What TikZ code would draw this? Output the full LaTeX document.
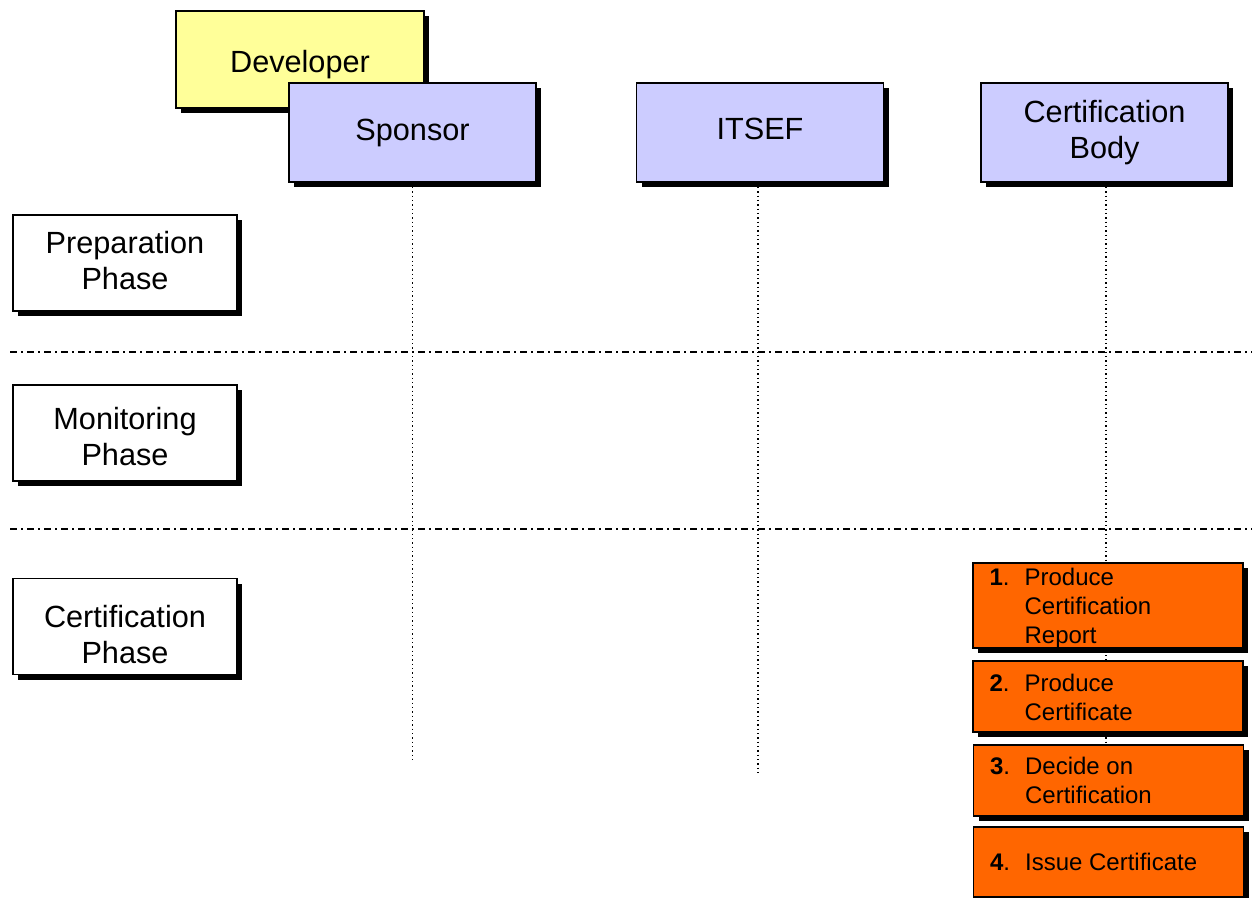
\documentclass[tikz,border=0pt]{standalone}
\usepackage{fontspec}
\setmainfont{Liberation Sans}
\usetikzlibrary{shadows,backgrounds}

\definecolor{devyellow}{HTML}{FFFF99}
\definecolor{rolelilac}{HTML}{CCCCFF}
\definecolor{steporange}{HTML}{FF6600}

\newcommand\lanefont{\fontsize{23}{27}\selectfont}
\newcommand\stepfont{\fontsize{18}{21.75}\selectfont}
\newcommand\stepitem[2]{\begin{tabular}{@{}p{26.25pt}@{}l@{}}\textbf{#1}. & #2\end{tabular}}

\tikzset{
  boxshadow/.style={drop shadow={shadow xshift=3.75pt, shadow yshift=-3.75pt, opacity=1, fill=black}},
  plainbox/.style={draw=black, line width=1pt, boxshadow, inner sep=0pt},
  devbox/.style={plainbox, fill=devyellow, minimum width=186pt, minimum height=72.75pt},
  rolebox/.style={plainbox, fill=rolelilac, minimum width=185.25pt, minimum height=74.25pt},
  phasebox/.style={plainbox, fill=white, minimum width=168pt, minimum height=72pt},
  stepbox/.style={plainbox, fill=steporange, minimum width=202.5pt},
  lanetext/.style={inner sep=0pt, font=\lanefont, align=center},
  steptext/.style={anchor=west, inner sep=0pt, font=\stepfont, align=left},
  lifeline/.style={line width=1.1pt, dash pattern=on 1.1pt off 2.15pt},
  phaseline/.style={line width=0.9pt, dash pattern=on 5.25pt off 3pt on 1.5pt off 3pt},
}

\begin{document}
\begin{tikzpicture}[x=0.75pt, y=-0.75pt]
  \useasboundingbox (0,0) rectangle (1252,898);

  % actors
  \node[devbox] (dev) at (300,59.5) {};
  \node[lanetext] (devText) at ([yshift=-3.75pt]dev.center) {Developer};
  \node[rolebox] (sponsor) at (412.5,132.5) {};
  \node[lanetext] (sponsorText) at (sponsor.center) {Sponsor};
  \node[rolebox] (itsef) at (760,132.5) {};
  \node[lanetext] (itsefText) at ([yshift=3pt]itsef.center) {ITSEF};
  \node[rolebox] (cb) at (1104.5,132.5) {};
  \node[lanetext] (cbText) at (cb.center) {Certification\\Body};

  % phases
  \node[phasebox] (prep) at (125,263) {};
  \node[lanetext] (prepText) at ([yshift=1.5pt]prep.center) {Preparation\\Phase};
  \node[phasebox] (mon) at (125,433) {};
  \node[lanetext] (monText) at ([yshift=-3pt]mon.center) {Monitoring\\Phase};
  \node[phasebox] (cert) at (125,626.5) {};
  \node[lanetext] (certText) at ([yshift=-6pt]cert.center) {Certification\\Phase};

  % certification steps
  \node[stepbox, minimum height=63.75pt] (s1) at (1108,605.5) {};
  \node[stepbox, minimum height=53.25pt] (s2) at (1108,696.5) {};
  \node[stepbox, minimum height=53.25pt] (s3) at (1108.5,780.5) {};
  \node[stepbox, minimum height=52.5pt] (s4) at (1108.5,862) {};
  \node[steptext] (t1) at ([xshift=12.75pt, yshift=-2.25pt]s1.west) {\stepitem{1}{Produce\\ & Certification\\ & Report}};
  \node[steptext] (t2) at ([xshift=12.75pt, yshift=-3pt]s2.west) {\stepitem{2}{Produce\\ & Certificate}};
  \node[steptext] (t3) at ([xshift=12.75pt, yshift=-2.25pt]s3.west) {\stepitem{3}{Decide on\\ & Certification}};
  \node[steptext] (t4) at ([xshift=12.75pt, yshift=-2.25pt]s4.west) {\stepitem{4}{Issue Certificate}};

  % phase separators and lifelines
  \coordinate (sep1a) at (10,352);
  \coordinate (sep1b) at (1252,352);
  \coordinate (sep2a) at (10,529);
  \coordinate (sep2b) at (1252,529);
  \coordinate (sponsorEnd) at (412.5,760);
  \coordinate (itsefEnd) at (758,773);
  \coordinate (cbEnd) at (1106,745);

  \begin{pgfonlayer}{background}
    \draw[phaseline] (sep1a) -- (sep1b);
    \draw[phaseline] (sep2a) -- (sep2b);
    \draw[lifeline] (sponsor.south) -- (sponsorEnd);
    \draw[lifeline] (itsef.south -| itsefEnd) -- (itsefEnd);
    \draw[lifeline] (cb.south -| cbEnd) -- (cbEnd);
  \end{pgfonlayer}
\end{tikzpicture}
\end{document}
